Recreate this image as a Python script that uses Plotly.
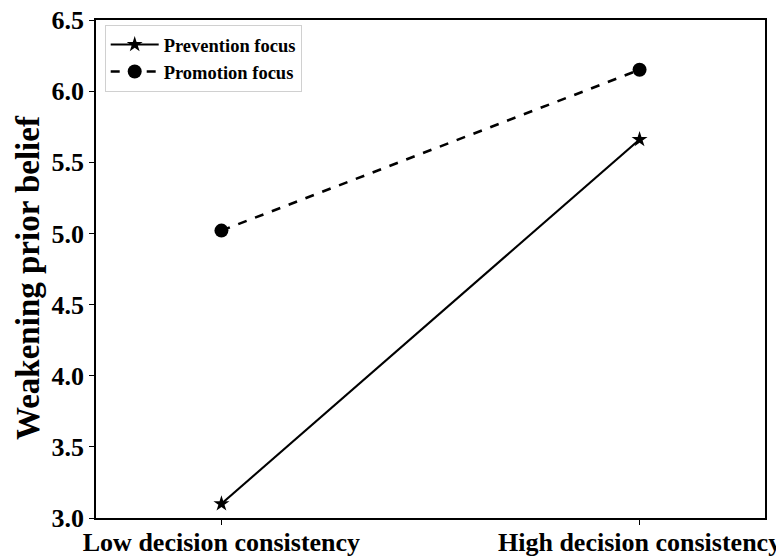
import plotly.graph_objects as go

categories = ["Low decision consistency", "High decision consistency"]
prevention = [3.10, 5.66]
promotion = [5.02, 6.15]
y_ticks = [3.0, 3.5, 4.0, 4.5, 5.0, 5.5, 6.0, 6.5]
y_title = "Weakening prior belief"

font_family = "Liberation Serif, Times New Roman, serif"

fig = go.Figure()
fig.add_trace(go.Scatter(
    x=[0, 1], y=prevention, mode="lines+markers", name="<b>Prevention focus</b>",
    line=dict(color="black", width=2.2, dash="solid"),
    marker=dict(symbol="star", size=12, color="black"),
))
fig.add_trace(go.Scatter(
    x=[0, 1], y=promotion, mode="lines+markers", name="<b>Promotion focus</b>",
    line=dict(color="black", width=2.6, dash="dash"),
    marker=dict(symbol="circle", size=14, color="black"),
))

# page body has an 8px default margin, so the figure is sized/placed to compensate
fig.update_layout(
    width=776, height=548,
    margin=dict(l=88, r=19, t=12, b=38),
    plot_bgcolor="white", paper_bgcolor="white",
    font=dict(family=font_family, color="black"),
    showlegend=True,
    legend=dict(
        x=0.013, y=0.99, xanchor="left", yanchor="top",
        bgcolor="rgba(255,255,255,0.9)", bordercolor="#d0d0d0", borderwidth=1,
        font=dict(size=18.5, family=font_family, color="black"),
        itemwidth=48, tracegroupgap=0,
    ),
    xaxis=dict(
        range=[-0.3, 1.3], tickvals=[0, 1],
        ticktext=["<b>" + c + "</b>" for c in categories],
        tickfont=dict(size=26, family=font_family, color="black"),
        showgrid=False, zeroline=False, automargin=False,
        showline=True, linecolor="black", linewidth=1.5, mirror=True,
        ticks="outside", ticklen=5, tickcolor="black",
        ticklabelstandoff=-5, ticklabeloverflow="allow",
    ),
    yaxis=dict(
        range=[3.0, 6.5], tickvals=y_ticks,
        ticktext=["<b>%.1f</b>" % v for v in y_ticks],
        tickfont=dict(size=26, family=font_family, color="black"),
        showgrid=False, zeroline=False, automargin=False,
        showline=True, linecolor="black", linewidth=1.5, mirror=True,
        ticks="outside", ticklen=5, tickcolor="black",
        ticklabeloverflow="allow",
    ),
    annotations=[dict(
        text="<b>" + y_title + "</b>", textangle=-90,
        xref="paper", yref="paper", x=0, y=0.482,
        xanchor="center", yanchor="middle", xshift=-68, showarrow=False,
        font=dict(size=33, family=font_family, color="black"),
    )],
)

fig.write_html("out.html")
